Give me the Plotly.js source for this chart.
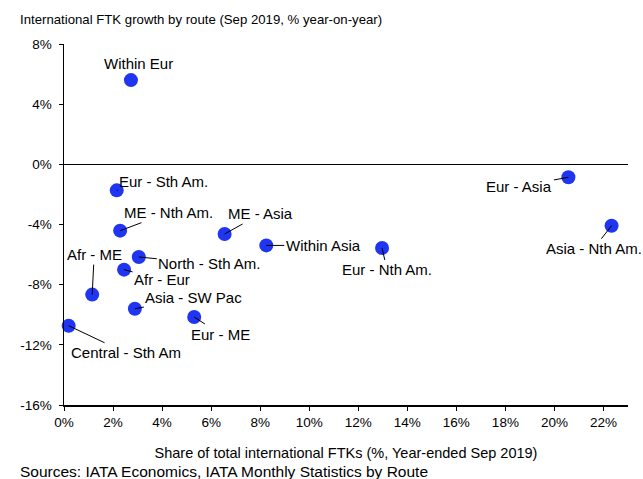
<!DOCTYPE html>
<html>
<head>
<meta charset="utf-8">
<script src="https://cdn.plot.ly/plotly-3.0.1.min.js"></script>
<style>html,body{margin:0;padding:0;background:#fff;}#chart{width:643px;height:479px;}</style>
</head>
<body>
<div id="chart"></div>
<script>
// Data (x: share of total international FTKs %, y: FTK growth % yoy)
const routes = ["Within Eur","Eur - Sth Am.","ME - Nth Am.","ME - Asia","Within Asia","North - Sth Am.","Afr - Eur","Afr - ME","Asia - SW Pac","Eur - ME","Central - Sth Am","Eur - Asia","Asia - Nth Am.","Eur - Nth Am."];
const share = [2.73, 2.15, 2.29, 6.55, 8.25, 3.05, 2.45, 1.15, 2.89, 5.31, 0.19, 20.57, 22.33, 12.97];
const growth = [5.6, -1.73, -4.41, -4.63, -5.39, -6.16, -7.0, -8.66, -9.6, -10.15, -10.73, -0.86, -4.08, -5.56];
const xTickVals = [0, 2, 4, 6, 8, 10, 12, 14, 16, 18, 20, 22];
const xTickText = ["0%", "2%", "4%", "6%", "8%", "10%", "12%", "14%", "16%", "18%", "20%", "22%"];
const yTickVals = [-16, -12, -8, -4, 0, 4, 8];
const yTickText = ["-16%", "-12%", "-8%", "-4%", "0%", "4%", "8%"];
// label offsets in pixels (styling)
const offX = [8, 47, 48, 36, 57, 71, 38, 2, 59, 26, 57, -49, -18, 5];
const offY = [-17, -9, -18, -20, 0, 7, 10, -40, -11, 17, 27, 9, 23, 22];

const font = "Liberation Sans, Arial, sans-serif";
const annotations = routes.map((r, i) => ({
  x: share[i], y: growth[i], xref: 'x', yref: 'y',
  text: r, showarrow: i !== 0, arrowhead: 0, arrowwidth: 1, arrowcolor: '#000',
  ax: offX[i], ay: offY[i], standoff: 0, startstandoff: 0,
  xshift: i === 0 ? offX[i] : 0, yshift: i === 0 ? -offY[i] : 0,
  font: {family: font, size: 15, color: '#000'}
}));
annotations.push({
  xref: 'paper', yref: 'paper', x: 0, y: 0, xanchor: 'left', yanchor: 'bottom',
  text: 'Sources: IATA Economics, IATA Monthly Statistics by Route', showarrow: false,
  font: {family: font, size: 15.5, color: '#000'}, xshift: -46, yshift: -77
});

const trace = {
  x: share, y: growth, type: 'scatter', mode: 'markers',
  marker: {size: 14, color: '#1f35f2'}, hoverinfo: 'skip', cliponaxis: false
};

const layout = {
  width: 643, height: 479,
  margin: {l: 64, r: 15, t: 44, b: 74},
  paper_bgcolor: '#fff', plot_bgcolor: '#fff',
  showlegend: false,
  font: {family: font, size: 13, color: '#000'},
  title: {text: 'International FTK growth by route (Sep 2019, % year-on-year)', x: 0, xref: 'paper', xanchor: 'left', y: 0.96, yanchor: 'middle', pad: {l: -44}, font: {family: font, size: 13.2, color: '#000'}},
  xaxis: {
    range: [0, 23], tickmode: 'array', tickvals: xTickVals, ticktext: xTickText, showgrid: false, zeroline: false,
    showline: true, linecolor: '#000', linewidth: 1.5, ticks: 'outside', ticklen: 4, tickcolor: '#000',
    title: {text: 'Share of total international FTKs (%, Year-ended Sep 2019)', standoff: 19, font: {family: font, size: 14.5}},
    tickfont: {family: font, size: 13.5}
  },
  yaxis: {
    range: [-16, 8], tickmode: 'array', tickvals: yTickVals, ticktext: yTickText, showgrid: false,
    zeroline: true, zerolinecolor: '#000', zerolinewidth: 1.5,
    showline: true, linecolor: '#000', linewidth: 1.5, ticks: 'outside', ticklen: 4, tickcolor: '#000',
    ticklabelstandoff: 4,
    tickfont: {family: font, size: 13.5}
  },
  annotations: annotations
};
Plotly.newPlot('chart', [trace], layout, {staticPlot: true});
</script>
</body>
</html>
